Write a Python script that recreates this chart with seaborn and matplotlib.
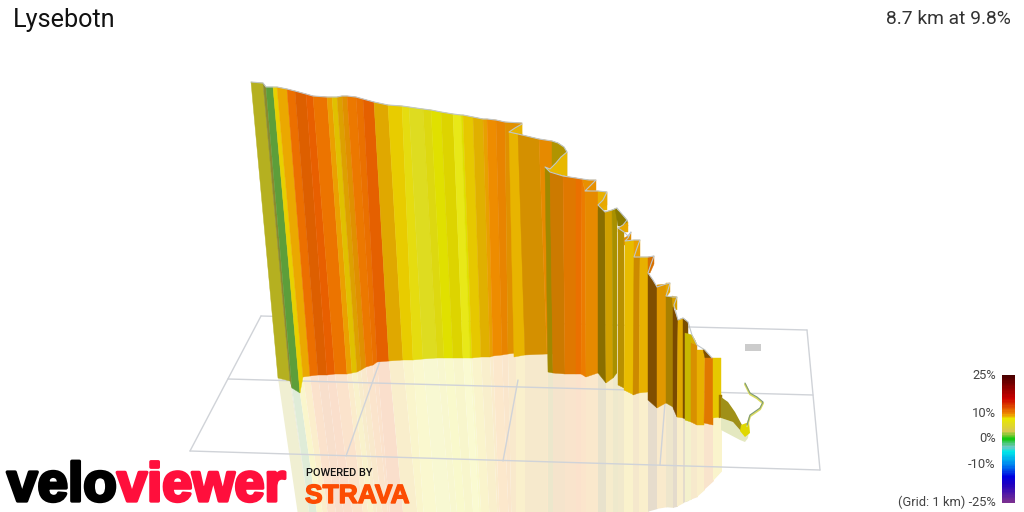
import numpy as np
import pandas as pd
import seaborn as sns
import matplotlib.pyplot as plt
import matplotlib.patheffects as pe
from matplotlib.colors import LinearSegmentedColormap, to_rgb

# Main wall of the climb, one colour per strip
top_x = [251,263,266,273,277,287,295,306,313,327,332,337,342,347,356,363,374,388,402,409,423,431,441,453,461,463,473,483,487,496,505,522]
top_y = [82,83,87,87,87,89,91,94,96,97,97,97,96,96,97,99,102,105,106,107,109,110,112,114,115,115,117,119,119,120,122,123]
base_x = [278,290,292,300,303,310,318,327,335,347,352,357,361,366,373,377,389,403,413,423,437,444,453,463,470,472,481,490,493,502,508,516]
base_y = [378,381,388,393,377,376,375,375,374,374,373,372,370,367,365,362,361,360,360,359,358,358,358,358,358,358,357,357,356,355,354,353]
wall_colors = ['#B5B020','#8A8A30','#5D9E3A','#E8D000','#EBA800','#EC6F00','#DD5F00','#E85F00','#EC7400','#EBA000',
               '#E0C000','#DDA000','#E09000','#EC7800','#EA7000','#E56000','#E0A800','#E8CC00','#E5DC10','#DEDC20',
               '#DDD810','#E0E000','#DDD400','#E8E818','#E0E000','#E6C800','#E0B000','#E8A000','#EE8C00','#E88400','#E09000']

# Folded part of the wall on the right, painted in this order
fold_x = [[509,522,525,514],[518,539,547,525],[539,552,556,547],[552,558,564,567,567,552],[545,550,556,561,567,567,545],
          [545,550,553,548],[550,563,565,553],[563,576,576,565],[576,582,581,576],[582,589,596,596,585],[582,585,586,581],
          [585,598,598,586],[598,607,607,598],[598,603,607,607,598],[598,605,606,598],[605,612,613,606],[612,617,617,613],
          [615,621,627,628,618],[618,623,628,628,618],[618,624,624,618],[624,628,631,631,624],[625,634,634,624],
          [634,640,640,634],[634,640,639,633],[640,648,648,639],[648,654,654,650,648],[648,657,657,648],[657,666,666,657],
          [666,670,670,667,666],[666,673,673,666],[672,677,677,673],[673,678,677,673],[678,683,683,677],[683,688,688,683],
          [685,692,691,685],[692,695,697,691],[691,697,697,691],[697,705,704,697],[703,712,705],[705,713,713,704],
          [713,721,721,713],[719,722,722,719]]
fold_y = [[132,124,355,357],[134,139,354,355],[139,141,354,354],[141,143,147,152,176,170],[167,169,163,157,152,176,172],
          [167,172,373,372],[172,176,374,373],[176,178,374,374],[178,179,374,374],[179,180,180,192,190],[179,191,377,374],
          [191,191,373,377],[191,192,210,210],[205,200,193,205,210],[205,212,383,373],[212,210,378,383],[210,208,373,378],
          [208,213,220,226,226],[228,225,222,232,232],[228,232,388,385],[238,236,232,245,245],[241,240,395,390],
          [240,240,258,258],[257,257,393,395],[257,257,392,393],[257,256,264,273,273],[273,287,408,400],[285,284,403,408],
          [283,283,292,296,296],[296,297,407,403],[296,297,310,307],[307,320,417,408],[320,318,418,417],[318,322,420,418],
          [333,335,422,420],[335,340,345,343],[343,345,425,422],[350,350,425,425],[349,358,358],[358,358,425,423],
          [358,358,417,418],[395,395,417,418]]
fold_colors = ['#E8B400','#D49000','#E68A00','#B09400','#E8B800','#A08800','#CC7A00','#E07800','#EA7000','#E89000','#EC7C00',
               '#E68A00','#E8B000','#E8A800','#8A6E00','#D0A000','#A89000','#8A7A00','#E8A800','#B89000','#E09000','#E8BC00',
               '#E8A000','#CC8A00','#E8B000','#D87000','#804E00','#E09800','#E8A800','#A88000','#D8A000','#7A4A00','#E0A800',
               '#7A4E00','#C8B800','#D8B000','#D89000','#E8B000','#805000','#E07800','#E6C800','#A07800']
fold_ground = [1,1,1,0,0,1,1,1,1,0,1,1,0,0,1,1,1,0,0,1,0,1,0,1,1,0,1,1,0,1,0,1,1,1,1,0,1,1,0,1,1,0]

# Lower end of the mirror image on the right
mirror_x = [640,647,663,675,683,697,707,717,722]
mirror_y = [514,512,507,508,503,497,487,477,470]

# Ridge line along the top edge, including the small switchback curves
ridges_x = [top_x, [522,515,509,518,539,552,558,564,567,561,556,550,545,550,563,576,582,589,596,590,585,598,607,603,598,605,612,617,621,627,623,618,624,628,631,628,625,634,640,637,634,640,648,654,651,648,653,657,666,670,668,666,673,677,674,678,683,688,692,697,705,712]]
ridges_y = [top_y, [124,128,132,134,139,141,143,147,152,157,163,169,167,172,176,178,179,180,180,186,191,191,192,200,205,212,210,208,213,220,225,228,232,236,232,238,241,240,240,248,257,257,257,256,264,273,280,287,284,283,290,296,297,297,305,320,318,322,335,345,350,358]]

# Tail of the climb after the wall ends
tail_x = [721,728,735,742,745,740,733,721]
tail_y = [397,402,412,425,434,430,422,418]
foot_x = [741,749,750,745,740]
foot_y = [425,422,433,437,431]
shadow_x = [721,733,740,749,748,745,740,721]
shadow_y = [418,422,430,430,438,442,440,430]
ribbon_x = [745,750,757,763,760,750,747]
ribbon_y = [383,393,397,402,408,415,425]
blob_x = [745,761,761,745]
blob_y = [344,344,351,351]

# Ground grid, one km squares
grid_x = [[261,807],[228,813],[190,820],[261,190],[807,820],[380,346],[518,503],[665,660]]
grid_y = [[316,330],[379,395],[451,470],[316,451],[330,470],[361,456],[380,461],[403,465]]

# Gradient legend
grades = np.arange(25, -25.5, -0.5)
legend_grades = [25, 10, 0, -10, -25]
legend_labels = ['25%', '10%', '0%', '-10%', '(Grid: 1 km) -25%']
anchor_grades = [25, 16, 10, 8, 3, 0, -3, -5, -10, -15, -18, -25]
anchor_colors = ['#4A0000','#CC0000','#EE8800','#E8E800','#D8C850','#10C810','#70C8C0','#00E8E8','#0088F0','#0000E0','#2000C0','#7B3090']


def pale(c):
    # colour of a strip seen as its mirror image on the ground
    return [0.8 + 0.2 * v for v in to_rgb(c)]


sns.set_theme(style='white')
plt.rcParams['font.family'] = ['Roboto', 'DejaVu Sans']

fig = plt.figure(figsize=(10.24, 5.12), dpi=100)
ax = fig.add_axes([0, 0, 1, 1])
ax.set_xlim(0, 1024)
ax.set_ylim(512, 0)
ax.axis('off')

# Mirror image of the strips on the ground
for xs, ys, c, g in zip(fold_x, fold_y, fold_colors, fold_ground):
    if g:
        ends = np.interp([xs[3], xs[2]], mirror_x, mirror_y)
        ax.fill([xs[3], xs[2] + 1, xs[2] + 1, xs[3]], [ys[3], ys[2], ends[1], ends[0]], color=pale(c), lw=0, zorder=1)
for i, c in enumerate(wall_colors):
    rx = [base_x[j] + max(base_x[j] - top_x[j], 0) * 1.44 for j in (i, i + 1)]
    ry = [base_y[j] + (base_y[j] - top_y[j]) * 0.9 for j in (i, i + 1)]
    ax.fill([base_x[i], base_x[i + 1], rx[1], rx[0]], [base_y[i], base_y[i + 1], ry[1], ry[0]], color=pale(c), lw=0, zorder=1)
ax.fill(shadow_x, shadow_y, color='#E4E8C0', lw=0, zorder=1)

# Grid
for gx, gy in zip(grid_x, grid_y):
    sns.lineplot(x=gx, y=gy, ax=ax, color='#D0D3D8', lw=1, sort=False, estimator=None, zorder=2)

# Wall
for i, c in enumerate(wall_colors):
    ax.fill([top_x[i], top_x[i + 1], base_x[i + 1], base_x[i]],
            [top_y[i], top_y[i + 1], base_y[i + 1], base_y[i]], color=c, lw=0.3, zorder=3)
for xs, ys, c in zip(fold_x, fold_y, fold_colors):
    ax.fill(xs, ys, color=c, lw=0.3, zorder=4)
for rx, ry in zip(ridges_x, ridges_y):
    sns.lineplot(x=rx, y=ry, ax=ax, color='#C0C6C8', lw=0.8, sort=False, estimator=None, zorder=5)

# Tail and small ribbon at the start
ax.fill(tail_x, tail_y, color='#A09018', lw=0, zorder=4)
ax.fill(foot_x, foot_y, color='#E0D800', lw=0, zorder=4)
sns.lineplot(x=ribbon_x, y=[v + 1.2 for v in ribbon_y], ax=ax, color='#DCDC60', lw=1.5, sort=False, estimator=None, zorder=4)
sns.lineplot(x=ribbon_x, y=ribbon_y, ax=ax, color='#7F9A78', lw=0.8, sort=False, estimator=None, zorder=5)
ax.fill(blob_x, blob_y, color='#CCCCCC', lw=0, zorder=2)

# Titles
ax.text(13, 20, 'Lysebotn', fontsize=18.2, color='#111111', va='center', ha='left')
ax.text(1011, 19, '8.7 km at 9.8%', fontsize=13.9, color='#333333', va='center', ha='right')

# Logos
ax.text(7, 501, 'velo', fontsize=39.5, family='Liberation Sans', fontweight='bold', color='black',
        va='baseline', ha='left', zorder=6, path_effects=[pe.withStroke(linewidth=2.4, foreground='black')])
ax.text(117, 501, 'viewer', fontsize=39, family='Liberation Sans', fontweight='bold', color='#FF0F3C',
        va='baseline', ha='left', zorder=6, path_effects=[pe.withStroke(linewidth=2.4, foreground='#FF0F3C')])
ax.text(306, 473, 'POWERED BY', fontsize=7.9, fontweight='medium', color='#111111', va='center', ha='left', zorder=6)
ax.text(305, 503, 'STRAVA', fontsize=19, family='Liberation Sans', fontweight='bold', color='#FC4C02',
        va='baseline', ha='left', zorder=6, path_effects=[pe.withStroke(linewidth=1, foreground='#FC4C02')])

# Legend gradient
cmap = LinearSegmentedColormap.from_list('grade', [((g + 25) / 50, c) for g, c in sorted(zip(anchor_grades, anchor_colors))])
cax = fig.add_axes([1002 / 1024, 1 - 503 / 512, 13 / 1024, 128 / 512])
df = pd.DataFrame({'g': grades})
sns.heatmap(df, ax=cax, cmap=cmap, vmin=-25, vmax=25, cbar=False, xticklabels=False)
cax.set_yticks([(25 - g) * 2 + 0.5 for g in legend_grades])
cax.set_yticklabels(legend_labels, rotation=0, fontsize=9.3, color='#444444')
cax.tick_params(axis='y', length=0, pad=4.5, left=False)
cax.set_ylabel('')

fig.savefig('out.png', dpi=100)
